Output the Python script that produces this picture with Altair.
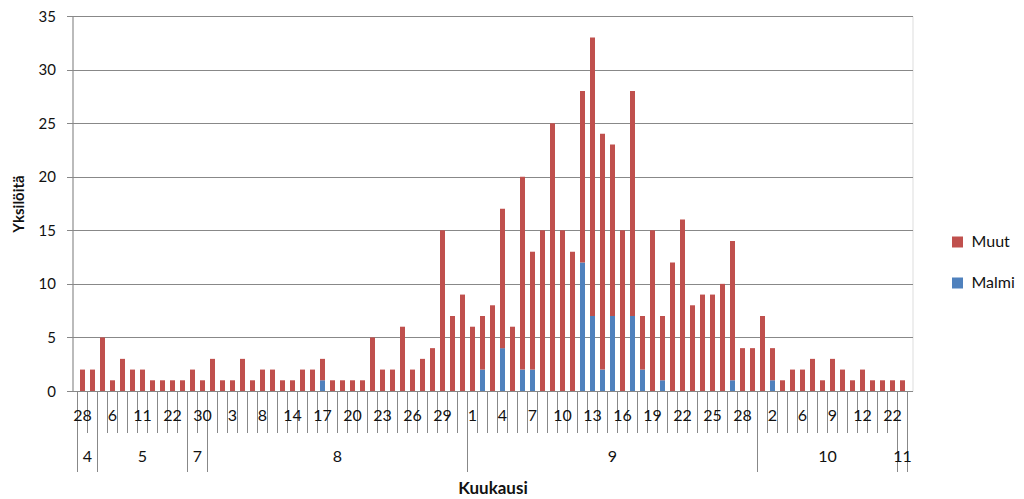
import altair as alt
import pandas as pd

# ---- data ----
months = [4, 4,
          5, 5, 5, 5, 5, 5, 5, 5, 5,
          7, 7,
          8, 8, 8, 8, 8, 8, 8, 8, 8, 8, 8, 8, 8, 8, 8, 8, 8, 8, 8, 8, 8, 8, 8, 8, 8, 8,
          9, 9, 9, 9, 9, 9, 9, 9, 9, 9, 9, 9, 9, 9, 9, 9, 9, 9, 9, 9, 9, 9, 9, 9, 9, 9, 9, 9, 9,
          10, 10, 10, 10, 10, 10, 10, 10, 10, 10, 10, 10, 10, 10,
          11]
days = [28, 30,
        3, 6, 8, 10, 11, 15, 19, 22, 27,
        26, 30,
        1, 2, 3, 5, 6, 8, 10, 12, 14, 15, 16, 17, 18, 19, 20, 21, 22, 23, 24, 25, 26, 27, 28, 29, 30, 31,
        1, 2, 3, 4, 5, 6, 7, 8, 9, 10, 11, 12, 13, 14, 15, 16, 17, 18, 19, 20, 21, 22, 23, 24, 25, 26, 27, 28, 29,
        1, 2, 3, 4, 6, 7, 8, 9, 10, 11, 12, 15, 18, 22,
        1]
totals = [2, 2,
          5, 1, 3, 2, 2, 1, 1, 1, 1,
          2, 1,
          3, 1, 1, 3, 1, 2, 2, 1, 1, 2, 2, 3, 1, 1, 1, 1, 5, 2, 2, 6, 2, 3, 4, 15, 7, 9,
          6, 7, 8, 17, 6, 20, 13, 15, 25, 15, 13, 28, 33, 24, 23, 15, 28, 7, 15, 7, 12, 16, 8, 9, 9, 10, 14, 4, 4,
          7, 4, 1, 2, 2, 3, 1, 3, 2, 1, 2, 1, 1, 1,
          1]
malmi = [0, 0,
         0, 0, 0, 0, 0, 0, 0, 0, 0,
         0, 0,
         0, 0, 0, 0, 0, 0, 0, 0, 0, 0, 0, 1, 0, 0, 0, 0, 0, 0, 0, 0, 0, 0, 0, 0, 0, 0,
         0, 2, 0, 4, 0, 2, 2, 0, 0, 0, 0, 12, 7, 2, 7, 0, 7, 2, 0, 1, 0, 0, 0, 0, 0, 0, 1, 0, 0,
         0, 1, 0, 0, 0, 0, 0, 0, 0, 0, 0, 0, 0, 0,
         0]
series = ["Muut", "Malmi"]
colors = ["#C0504D", "#4F81BD"]
y_ticks = [0, 5, 10, 15, 20, 25, 30, 35]

# ---- tables built from the arrays ----
n = len(days)
rows = []
for i in range(n):
    rows.append({"idx": i, "c": i + 0.5, "series": "Malmi", "ord": 0, "v": malmi[i]})
    rows.append({"idx": i, "c": i + 0.5, "series": "Muut", "ord": 1, "v": totals[i] - malmi[i]})
bars_df = pd.DataFrame(rows)

cat_df = pd.DataFrame({"idx": list(range(n)), "day": days, "month": months})
cat_df["c"] = cat_df["idx"] + 0.5
day_lab = cat_df[cat_df["idx"] % 3 == 0].copy()
day_lab["label"] = day_lab["day"].astype(str)

# month groups
mg = cat_df.groupby("month", sort=False).agg(start=("idx", "min"), end=("idx", "max")).reset_index()
mg["end"] = mg["end"] + 1
mg["mid"] = (mg["start"] + mg["end"]) / 2
mg["label"] = mg["month"].astype(str)
month_bounds = sorted(set(mg["start"].tolist() + mg["end"].tolist()))
day_bounds = [b for b in range(n + 1) if b not in month_bounds]
db_df = pd.DataFrame({"b": day_bounds})
mb_df = pd.DataFrame({"b": month_bounds})

W, H = 840, 375
GRID = "#888888"
FONT = "Lato"
TXT = "#111111"

xscale = alt.Scale(domain=[0, n], nice=False, zero=False)

bars = alt.Chart(bars_df).mark_bar(size=5).encode(
    x=alt.X("c:Q", scale=xscale,
            axis=alt.Axis(labels=False, ticks=False, domain=False, grid=False,
                          title="Kuukausi", titleFont=FONT, titleFontSize=17,
                          titleFontWeight="bold", titleColor=TXT,
                          titleBaseline="alphabetic", titleY=102)),
    y=alt.Y("v:Q", stack="zero",
            scale=alt.Scale(domain=[0, 35], nice=False),
            axis=alt.Axis(values=y_ticks, grid=True, gridColor=GRID, gridWidth=1,
                          domainColor=GRID, tickColor=GRID, tickSize=6,
                          labelPadding=11, labelFont=FONT, labelFontSize=15,
                          labelColor=TXT, title="Yksilöitä", titleFont=FONT,
                          titleFontSize=15, titleFontWeight="bold", titleColor=TXT,
                          titleBaseline="alphabetic", titleX=-49.5)),
    color=alt.Color("series:N",
                    scale=alt.Scale(domain=series, range=colors),
                    legend=alt.Legend(title=None, orient="none", legendX=877, legendY=218,
                                      symbolType="square", symbolSize=121,
                                      symbolStrokeWidth=0, labelFont=FONT,
                                      labelFontSize=16, labelColor=TXT, labelOffset=6,
                                      rowPadding=25, padding=0)),
    order=alt.Order("ord:Q"),
)

day_lines = alt.Chart(db_df).mark_rule(color=GRID, strokeWidth=1).encode(
    x=alt.X("b:Q", scale=xscale), y=alt.value(H), y2=alt.value(H + 42)
)
month_lines = alt.Chart(mb_df).mark_rule(color=GRID, strokeWidth=1).encode(
    x=alt.X("b:Q", scale=xscale), y=alt.value(H), y2=alt.value(H + 81)
)
day_text = alt.Chart(day_lab).mark_text(font=FONT, fontSize=16, color=TXT,
                                        baseline="middle", align="center").encode(
    x=alt.X("c:Q", scale=xscale), y=alt.value(H + 24.5), text="label:N"
)
month_text = alt.Chart(mg).mark_text(font=FONT, fontSize=16, color=TXT,
                                     baseline="middle", align="center").encode(
    x=alt.X("mid:Q", scale=xscale), y=alt.value(H + 66), text="label:N"
)

chart = alt.layer(day_lines, month_lines, bars, day_text, month_text).properties(
    width=W, height=H,
    autosize=alt.AutoSizeParams(type="none"),
    padding={"left": 64.5, "top": 8, "right": 103, "bottom": 107},
).configure_view(stroke=None).configure(background="white")

chart.save("out.html", embed_options={"renderer": "svg", "actions": False})
